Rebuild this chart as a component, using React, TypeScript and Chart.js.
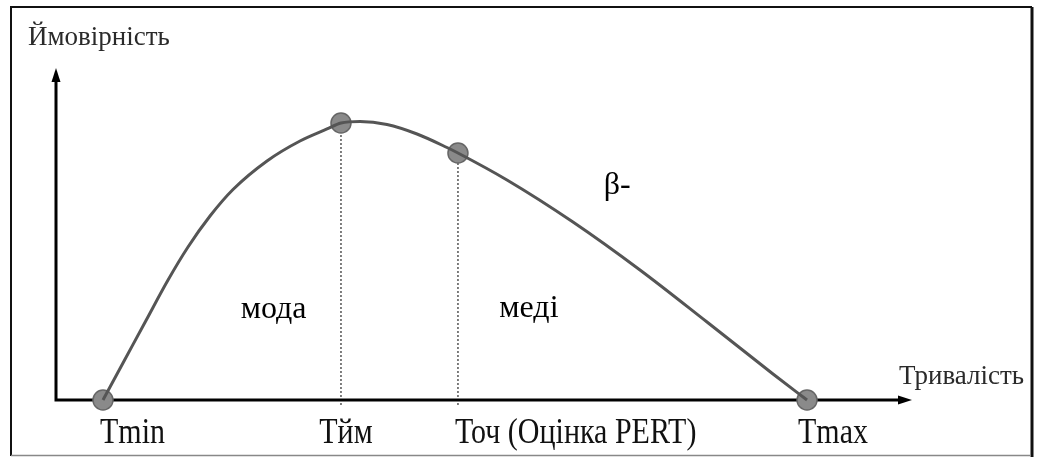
import React, { useEffect, useRef } from "react";
import { Chart, registerables } from "chart.js";

Chart.register(...registerables);

// Curve (x: duration units, y: probability units)
const curveX = [5.6, 8.17, 10.62, 13.19, 15.52, 18.09, 20.77, 24.74, 28.59, 31.74, 33.37, 35.59, 38.74, 42.24, 45.74, 47.02, 52.74, 60.44, 68.26, 76.08, 83.78, 87.75];
const curveY = [0, 12.26, 23.95, 36.14, 46.08, 55.42, 63.4, 72.0, 78.01, 81.63, 83.43, 83.89, 82.98, 80.12, 76.05, 74.4, 66.27, 53.61, 39.16, 23.49, 7.83, 0];

// Marked points
const markerX = [5.6, 33.37, 47.02, 87.75];
const markerY = [0, 83.43, 74.4, 0];
const markerLabels = ["Tmin", "Тйм", "Точ (Оцінка PERT)", "Tmax"];
const dashedMarkers = [1, 2];

const yAxisTitle = "Ймовірність";
const xAxisTitle = "Тривалість";
const areaLabels = ["мода", "меді", "β-"];
const areaLabelX = [25.5, 55.3, 65.6];
const areaLabelY = [24.7, 24.9, 62];

function stretchedText(ctx: CanvasRenderingContext2D, text: string, x: number, y: number, sy: number) {
  ctx.save();
  ctx.translate(x, y);
  ctx.scale(1, sy);
  ctx.fillText(text, 0, 0);
  ctx.restore();
}

export default function App() {
  const ref = useRef<HTMLCanvasElement | null>(null);

  useEffect(() => {
    if (!ref.current) return;
    const decor = {
      id: "decor",
      beforeDatasetsDraw(chart: any) {
        const { ctx } = chart;
        const xs = chart.scales.x;
        const ys = chart.scales.y;
        const y0 = ys.getPixelForValue(0);
        const x0 = chart.chartArea.left + 1;
        ctx.save();
        // dashed verticals
        ctx.strokeStyle = "#555";
        ctx.lineWidth = 1.5;
        ctx.setLineDash([2, 2]);
        dashedMarkers.forEach((i) => {
          const px = xs.getPixelForValue(markerX[i]);
          ctx.beginPath();
          ctx.moveTo(px, y0 + 5);
          ctx.lineTo(px, ys.getPixelForValue(markerY[i]));
          ctx.stroke();
        });
        ctx.setLineDash([]);
        // axes
        ctx.strokeStyle = "#000";
        ctx.fillStyle = "#000";
        ctx.lineWidth = 3;
        ctx.beginPath();
        ctx.moveTo(x0, y0 + 1.5);
        ctx.lineTo(x0, chart.chartArea.top + 10);
        ctx.moveTo(x0 - 1.5, y0);
        ctx.lineTo(chart.chartArea.right - 10, y0);
        ctx.stroke();
        // arrow heads
        const top = chart.chartArea.top;
        ctx.beginPath();
        ctx.moveTo(x0, top);
        ctx.lineTo(x0 - 4.5, top + 14);
        ctx.lineTo(x0 + 4.5, top + 14);
        ctx.closePath();
        ctx.fill();
        const right = chart.chartArea.right;
        ctx.beginPath();
        ctx.moveTo(right, y0);
        ctx.lineTo(right - 14, y0 - 4.5);
        ctx.lineTo(right - 14, y0 + 4.5);
        ctx.closePath();
        ctx.fill();
        ctx.restore();
      },
      afterDraw(chart: any) {
        const { ctx } = chart;
        const xs = chart.scales.x;
        const ys = chart.scales.y;
        const y0 = ys.getPixelForValue(0);
        ctx.save();
        // frame
        ctx.strokeStyle = "#111";
        ctx.lineWidth = 2;
        ctx.beginPath();
        ctx.moveTo(11, 456);
        ctx.lineTo(11, 7);
        ctx.lineTo(1032, 7);
        ctx.stroke();
        ctx.lineWidth = 3;
        ctx.beginPath();
        ctx.moveTo(1032, 7);
        ctx.lineTo(1032, 457);
        ctx.stroke();
        ctx.strokeStyle = "#888";
        ctx.lineWidth = 1.5;
        ctx.beginPath();
        ctx.moveTo(11, 455.5);
        ctx.lineTo(1031, 455.5);
        ctx.stroke();
        // titles
        ctx.fillStyle = "#2a2a2a";
        ctx.textBaseline = "alphabetic";
        ctx.font = "27px 'Liberation Serif', serif";
        ctx.textAlign = "left";
        stretchedText(ctx, yAxisTitle, 28, 45, 1.05);
        stretchedText(ctx, xAxisTitle, 899, 384, 1.05);
        // marker labels
        ctx.fillStyle = "#111";
        ctx.font = "30px 'Liberation Serif', serif";
        markerLabels.forEach((lab, i) => {
          const px = xs.getPixelForValue(markerX[i]);
          if (i === 1) {
            ctx.textAlign = "center";
            stretchedText(ctx, lab, px + 5, y0 + 43, 1.22);
          } else if (i === 3) {
            ctx.textAlign = "left";
            stretchedText(ctx, lab, px - 9, y0 + 43, 1.22);
          } else {
            ctx.textAlign = "left";
            stretchedText(ctx, lab, px - 3, y0 + 43, 1.22);
          }
        });
        // area labels
        ctx.fillStyle = "#000";
        ctx.font = "32px 'Liberation Serif', serif";
        ctx.textAlign = "center";
        areaLabels.forEach((lab, i) => {
          ctx.fillText(lab, xs.getPixelForValue(areaLabelX[i]), ys.getPixelForValue(areaLabelY[i]));
        });
        ctx.restore();
      },
    };

    const chart = new Chart(ref.current, {
      type: "scatter",
      data: {
        datasets: [
          {
            type: "line",
            data: curveX.map((x, i) => ({ x, y: curveY[i] })),
            borderColor: "#555",
            borderWidth: 3,
            pointRadius: 0,
            cubicInterpolationMode: "monotone",
            fill: false,
            clip: false,
          },
          {
            type: "scatter",
            data: markerX.map((x, i) => ({ x, y: markerY[i] })),
            pointRadius: 10,
            backgroundColor: "#8a8a8a",
            borderColor: "#666",
            borderWidth: 1.5,
            clip: false,
          },
        ],
      } as any,
      options: {
        animation: false,
        responsive: false,
        layout: { padding: { left: 55, right: 126, top: 68, bottom: 57 } },
        plugins: { legend: { display: false }, tooltip: { enabled: false } },
        scales: {
          x: { type: "linear", min: 0, max: 100, display: false },
          y: { type: "linear", min: 0, max: 100, display: false },
        },
      } as any,
      plugins: [decor],
    });
    return () => chart.destroy();
  }, []);

  return (
    <div style={{ position: "fixed", left: 0, top: 0, width: 1038, height: 457, background: "#fff" }}>
      <canvas ref={ref} width={1038} height={457} style={{ display: "block" }} />
    </div>
  );
}
